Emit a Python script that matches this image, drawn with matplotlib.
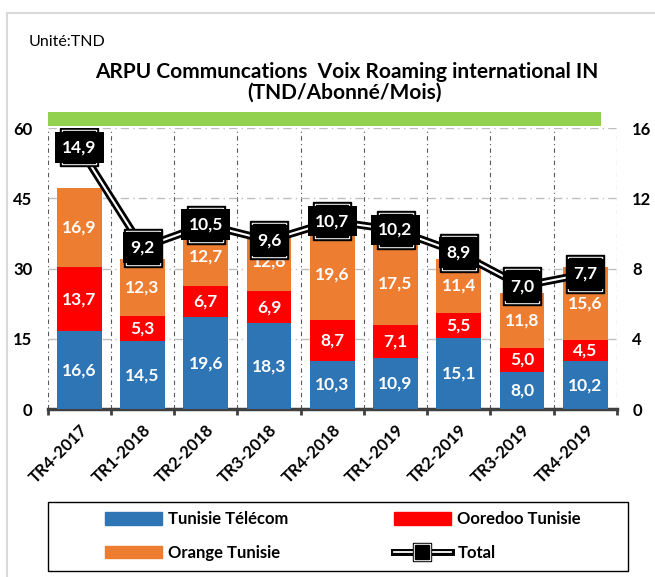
import matplotlib.pyplot as plt
from matplotlib.patches import Rectangle
from matplotlib.lines import Line2D
import numpy as np

plt.rcParams['font.family'] = ['Lato', 'DejaVu Sans']

quarters = ['TR4-2017', 'TR1-2018', 'TR2-2018', 'TR3-2018', 'TR4-2018',
            'TR1-2019', 'TR2-2019', 'TR3-2019', 'TR4-2019']
tunisie_telecom = [16.6, 14.5, 19.6, 18.3, 10.3, 10.9, 15.1, 8.0, 10.2]
ooredoo = [13.7, 5.3, 6.7, 6.9, 8.7, 7.1, 5.5, 5.0, 4.5]
orange = [16.9, 12.3, 12.7, 12.6, 19.6, 17.5, 11.4, 11.8, 15.6]
total = [14.9, 9.2, 10.5, 9.6, 10.7, 10.2, 8.9, 7.0, 7.7]

blue = '#2E75B6'
red = '#FF0000'
orng = '#ED7D31'

fig = plt.figure(figsize=(6.55, 5.77), dpi=100)
ax = fig.add_axes([0.0728, 0.291, 0.869, 0.487])
x = np.arange(len(quarters))
w = 0.71

tt = np.array(tunisie_telecom)
oo = np.array(ooredoo)
orn = np.array(orange)

ax.bar(x, tt, w, color=blue, zorder=3)
ax.bar(x, oo, w, bottom=tt, color=red, zorder=3)
ax.bar(x, orn, w, bottom=tt + oo, color=orng, zorder=3)

def fmt(v):
    return f'{v:.1f}'.replace('.', ',')

for i in range(len(x)):
    ax.text(x[i], tt[i] / 2, fmt(tt[i]), ha='center', va='center', color='white',
            fontsize=12.5, fontweight='bold', zorder=4)
    ax.text(x[i], tt[i] + oo[i] / 2, fmt(oo[i]), ha='center', va='center', color='white',
            fontsize=12.5, fontweight='bold', zorder=4)
    ax.text(x[i], tt[i] + oo[i] + orn[i] / 2, fmt(orn[i]), ha='center', va='center',
            color='white', fontsize=12.5, fontweight='bold', zorder=4)

ax.set_xlim(-0.5, len(x) - 0.5)
ax.set_ylim(0, 60)
ax.set_yticks([0, 15, 30, 45, 60])
ax.tick_params(axis='y', length=0, labelsize=12, pad=11)
for lbl in ax.get_yticklabels():
    lbl.set_fontweight('bold')

ax.set_xticks(x)
ax.set_xticklabels(quarters, rotation=45, ha='right', rotation_mode='anchor',
                   fontsize=12, fontweight='bold')
ax.tick_params(axis='x', length=0, pad=9)
ax.set_xticks(np.arange(-0.5, len(x)), minor=True)
ax.tick_params(axis='x', which='minor', length=4, width=2, color='#404040', direction='out')

for s in ['top', 'left', 'right']:
    ax.spines[s].set_visible(False)
ax.spines['bottom'].set_color('#404040')
ax.spines['bottom'].set_linewidth(2.5)

# grid
ax.grid(axis='y', color='#BFBFBF', linestyle=(0, (6, 3, 1, 3)), linewidth=1, zorder=0)
for b in np.arange(-0.5, len(x)):
    ax.axvline(b, color='#595959', linestyle=(0, (4, 3, 1, 3)), linewidth=0.8, zorder=1)

# total on right axis
ax2 = ax.twinx()
ax2.set_ylim(0, 16)
ax2.set_yticks([0, 4, 8, 12, 16])
ax2.tick_params(axis='y', length=0, labelsize=12, pad=11)
for lbl in ax2.get_yticklabels():
    lbl.set_fontweight('bold')
for s in ax2.spines.values():
    s.set_visible(False)
ax2.plot(x, total, color='black', linewidth=5.5, solid_capstyle='round', zorder=5)
ax2.plot(x, total, color='white', linewidth=1.5, zorder=6)
ax2.plot(x, total, linestyle='none', marker='s', markersize=27, color='black', zorder=6)
ax2.plot(x, total, linestyle='none', marker='s', markersize=25, color='white', zorder=6)
ax2.plot(x, total, linestyle='none', marker='s', markersize=23, color='black', zorder=6)
for i in range(len(x)):
    ax2.text(x[i], total[i], fmt(total[i]), ha='center', va='center', color='white',
             fontsize=12.5, fontweight='bold', zorder=7,
             bbox=dict(boxstyle='square,pad=0.42', facecolor='black',
                       edgecolor='black', linewidth=0))

# green band
fig.add_artist(Rectangle((0.0728, 0.7816), 0.844, 0.0243, transform=fig.transFigure,
                         facecolor='#92D050', edgecolor='none'))

fig.text(0.043, 0.927, 'Unité:TND', fontsize=11.5, va='center')
fig.text(0.529, 0.875, 'ARPU Communcations  Voix Roaming international IN',
         fontsize=15, fontweight='bold', ha='center', va='center')
fig.text(0.526, 0.840, '(TND/Abonné/Mois)', fontsize=15, fontweight='bold',
         ha='center', va='center')

# figure border
fig.add_artist(Line2D([0.011, 0.011], [0, 0.977], transform=fig.transFigure,
                      color='#D9D9D9', linewidth=1.5))
fig.add_artist(Line2D([0.011, 1], [0.977, 0.977], transform=fig.transFigure,
                      color='#D9D9D9', linewidth=1.5))

# legend frame
fig.add_artist(Rectangle((0.0733, 0.0104), 0.885, 0.1196, transform=fig.transFigure,
                         facecolor='none', edgecolor='black', linewidth=1))

total_handle = (
    Line2D([], [], color='black', linewidth=5),
    Line2D([], [], color='white', linewidth=1.3),
    Line2D([], [], linestyle='none', marker='s', markersize=13, color='black'),
    Line2D([], [], linestyle='none', marker='s', markersize=11.5, color='white'),
    Line2D([], [], linestyle='none', marker='s', markersize=10, color='black'),
)

leg_kw = dict(loc='center left', frameon=False, fontsize=12, handlelength=3.4,
              handleheight=0.75, handletextpad=0.4, labelspacing=1.05, borderpad=0,
              borderaxespad=0)
leg1 = fig.legend([Rectangle((0, 0), 1, 1, color=blue), Rectangle((0, 0), 1, 1, color=orng)],
                  ['Tunisie Télécom', 'Orange Tunisie'],
                  bbox_to_anchor=(105 / 655, 0.0711), **leg_kw)
leg2 = fig.legend([Rectangle((0, 0), 1, 1, color=red), total_handle],
                  ['Ooredoo Tunisie', 'Total'],
                  bbox_to_anchor=(394 / 655, 0.0711), **leg_kw)
for leg in (leg1, leg2):
    for t in leg.get_texts():
        t.set_fontweight('bold')

fig.savefig('out.png', dpi=100)
